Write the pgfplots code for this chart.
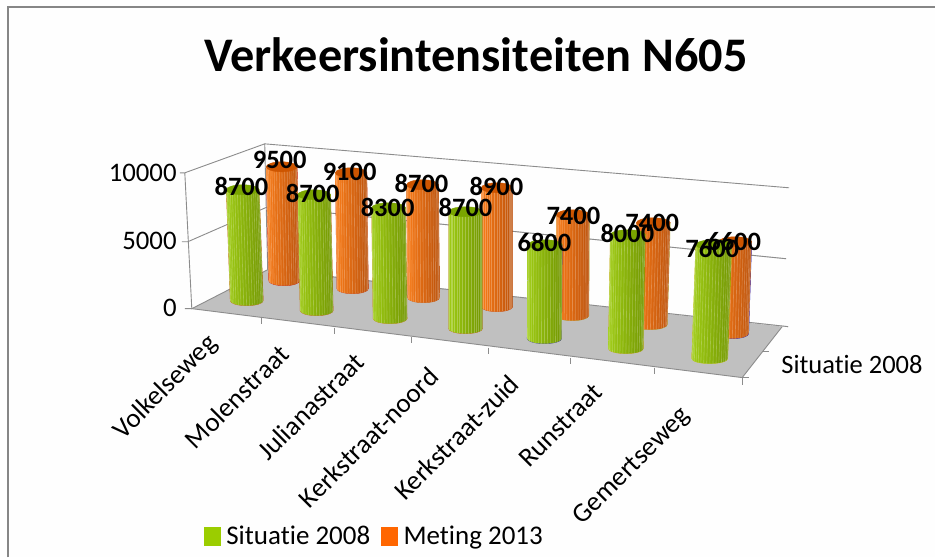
\documentclass[border=0pt]{standalone}
\usepackage{pgfplots}
\usepackage{pgfplotstable}
\usepackage{fontspec}
\setmainfont[Ligatures=NoCommon]{Carlito}
\pgfplotsset{compat=1.18}
\definecolor{gridc}{RGB}{140,140,140}
\definecolor{framec}{RGB}{134,134,134}
\definecolor{floorc}{RGB}{192,192,192}
\definecolor{legG}{RGB}{155,205,0}
\definecolor{legO}{RGB}{255,102,0}
\definecolor{bgc}{RGB}{254,254,254}
\definecolor{gL}{RGB}{160,205,20}
\definecolor{gM}{RGB}{130,175,0}
\definecolor{gR}{RGB}{112,148,0}
\definecolor{gC}{RGB}{122,165,0}
\definecolor{oL}{RGB}{250,125,25}
\definecolor{oM}{RGB}{222,92,0}
\definecolor{oR}{RGB}{185,80,10}
\definecolor{oC}{RGB}{205,85,0}
\pgfplotstableread{
xb yb value k dx w lx ly
247 301 8700 0.01276 4 33 241.7 187
317 311 8700 0.01333 2.5 33 313 194
390.5 319 8300 0.01337 1.5 34 388 208
466 329 8700 0.01345 0 34 466 208
545 339 6800 0.01382 -0.5 34.5 545 243
626.5 349 8000 0.01425 -2 35 628 234
710.5 359 7600 0.0150 -4 36 713 249
}\greentab
\pgfplotstableread{
xb yb value k dx w lx ly
284.5 281 9500 0.0120 2.5 31 280 160
353 289 9100 0.01275 1.5 31.5 350 172
424 298 8700 0.01299 1 32 422 184
497.5 307 8900 0.01337 0 31.5 497 187
573 316 7400 0.01365 -0.5 33 574 216
651 325 7400 0.01378 -3 34 653 223
733 334 6600 0.01394 -3 33 735 242
}\orangetab
\newcommand\cyl[4]{%
 \begin{scope}[x=1pt,y=1pt]
  \pgfmathsetmacro\rw{0.5*\cw}
  \pgfmathsetmacro\bl{\dx-\rw}
  \pgfmathsetmacro\hb{-\ch}
  \begin{scope}
   \clip (-\rw,0) -- (\bl,\hb) arc[start angle=180,end angle=360,x radius=\rw,y radius=5] -- (\rw,0) -- cycle;
   \shade[left color=#1,middle color=#2,right color=#3] ({min(-\rw,\bl)-1},6) rectangle ({max(\rw,\dx+\rw)+1},{\hb-8});
   \foreach \i in {-8,...,8}{
    \pgfmathsetmacro\sx{\rw*sin(\i*10)}
    \draw[white,opacity=0.25,line width=0.6pt] (\sx,6) -- ({\sx+\dx},{\hb-8});
   }
  \end{scope}
  \fill[#4] (0,0) ellipse[x radius=\rw,y radius=5];
 \end{scope}}
\pgfdeclareplotmark{cylg}{\cyl{gL}{gM}{gR}{gC}}
\pgfdeclareplotmark{cylo}{\cyl{oL}{oM}{oR}{oC}}
\begin{document}
\begin{tikzpicture}
\begin{axis}[
 width=936pt,height=558pt,scale only axis,
 xmin=0,xmax=936,ymin=0,ymax=558,y dir=reverse,
 axis lines=none,clip=false,
 legend style={draw=none,fill=none,at={(axis cs:201,537)},anchor=west,font=\fontsize{27}{27}\selectfont,
   legend columns=2,/tikz/every even column/.append style={column sep=9pt}},
 legend image code/.code={\fill[#1] (0pt,-9pt) rectangle (16pt,9pt);},
 legend cell align=left,
]
% page background
\addplot[fill=bgc,draw=none,forget plot] coordinates {(0,0) (936,0) (936,558) (0,558)} --cycle;
% frame
\addplot[framec,line width=2pt,forget plot] coordinates {(8,558) (8,7) (936,7)};
% floor
\addplot[fill=floorc,draw=none,forget plot] coordinates {(192,309) (268,270) (783,327) (743,378)} --cycle;
% walls
\addplot[gridc,line width=0.9pt,forget plot] coordinates {(180,173) (185,173) (192,309) (268,270) (265,144) (185,173)};
\addplot[gridc,line width=0.9pt,forget plot] coordinates {(265,144) (790,188)};
\addplot[gridc,line width=0.9pt,forget plot] coordinates {(182,242) (188,242) (268,207) (787,259)};
\addplot[gridc,line width=0.9pt,forget plot] coordinates {(268,270) (789,327)};
\addplot[gridc,line width=0.9pt,forget plot] coordinates {(185,309) (192,309) (743,378) (783,327)};
% ticks
\addplot[gridc,line width=0.9pt,forget plot] coordinates {(262,318) (262,324)};
\addplot[gridc,line width=0.9pt,forget plot] coordinates {(335,328) (335,334)};
\addplot[gridc,line width=0.9pt,forget plot] coordinates {(412,337) (412,343)};
\addplot[gridc,line width=0.9pt,forget plot] coordinates {(489,348) (489,354)};
\addplot[gridc,line width=0.9pt,forget plot] coordinates {(571,358) (571,364)};
\addplot[gridc,line width=0.9pt,forget plot] coordinates {(655,368) (655,374)};
\addplot[gridc,line width=0.9pt,forget plot] coordinates {(743,378) (743,385)};
\addplot[gridc,line width=0.9pt,forget plot] coordinates {(743,378) (750,378)};
\addplot[gridc,line width=0.9pt,forget plot] coordinates {(763,352) (770,352)};
% cylinders
\addplot[scatter,only marks,mark=cylo,forget plot,
  visualization depends on={\thisrow{value}*\thisrow{k}\as\ch},
  visualization depends on={\thisrow{dx}\as\dx},
  visualization depends on={\thisrow{w}\as\cw},
  point meta=\thisrow{value}]
  table[x expr=\thisrow{xb}-\thisrow{dx},y expr=\thisrow{yb}-\thisrow{value}*\thisrow{k}] {\orangetab};
\addplot[scatter,only marks,mark=cylg,forget plot,
  visualization depends on={\thisrow{value}*\thisrow{k}\as\ch},
  visualization depends on={\thisrow{dx}\as\dx},
  visualization depends on={\thisrow{w}\as\cw},
  point meta=\thisrow{value}]
  table[x expr=\thisrow{xb}-\thisrow{dx},y expr=\thisrow{yb}-\thisrow{value}*\thisrow{k}] {\greentab};
% gridlines faintly through the cylinders
\addplot[gridc,opacity=0.35,line width=0.9pt,forget plot] coordinates {(268,207) (787,259)};
\addplot[gridc,opacity=0.35,line width=0.9pt,forget plot] coordinates {(268,270) (789,327)};
% data labels
\addplot[only marks,mark=none,forget plot,point meta=\thisrow{value},
  nodes near coords={\pgfmathprintnumber[1000 sep=,assume math mode=true]{\pgfplotspointmeta}},
  every node near coord/.append style={anchor=center,inner sep=0pt,text=black,font=\bfseries\fontsize{26.5}{26.5}\selectfont}]
  table[x=lx,y=ly] {\orangetab};
\addplot[only marks,mark=none,forget plot,point meta=\thisrow{value},
  nodes near coords={\pgfmathprintnumber[1000 sep=,assume math mode=true]{\pgfplotspointmeta}},
  every node near coord/.append style={anchor=center,inner sep=0pt,text=black,font=\bfseries\fontsize{26.5}{26.5}\selectfont}]
  table[x=lx,y=ly] {\greentab};
% legend
\addlegendimage{legG}\addlegendentry{\hspace{4pt}Situatie 2008}
\addlegendimage{legO}\addlegendentry{\hspace{4pt}Meting 2013}
% texts
\node[font=\bfseries\fontsize{48.3}{48.3}\selectfont] at (axis cs:476.5,55) {Verkeersintensiteiten N605};
\node[font=\fontsize{26.8}{26.8}\selectfont,anchor=east,inner sep=0pt] at (axis cs:177,173) {10000};
\node[font=\fontsize{26.8}{26.8}\selectfont,anchor=east,inner sep=0pt] at (axis cs:177,241) {5000};
\node[font=\fontsize{26.8}{26.8}\selectfont,anchor=east,inner sep=0pt] at (axis cs:177,308) {0};
\node[font=\fontsize{26.5}{26.5}\selectfont,anchor=west,inner sep=0pt] at (axis cs:782,365) {Situatie 2008};
\node[font=\fontsize{27}{27}\selectfont,rotate=45,inner sep=0pt] at (axis cs:166,388) {Volkelseweg};
\node[font=\fontsize{27}{27}\selectfont,rotate=45,inner sep=0pt] at (axis cs:237,397) {Molenstraat};
\node[font=\fontsize{27}{27}\selectfont,rotate=45,inner sep=0pt] at (axis cs:311,407) {Julianastraat};
\node[font=\fontsize{27}{27}\selectfont,rotate=45,inner sep=0pt] at (axis cs:369,438) {Kerkstraat-noord};
\node[font=\fontsize{27}{27}\selectfont,rotate=45,inner sep=0pt] at (axis cs:457,438) {Kerkstraat-zuid};
\node[font=\fontsize{27}{27}\selectfont,rotate=45,inner sep=0pt] at (axis cs:561,426) {Runstraat};
\node[font=\fontsize{27}{27}\selectfont,rotate=45,inner sep=0pt] at (axis cs:633,467) {Gemertseweg};
\end{axis}
\end{tikzpicture}
\end{document}
